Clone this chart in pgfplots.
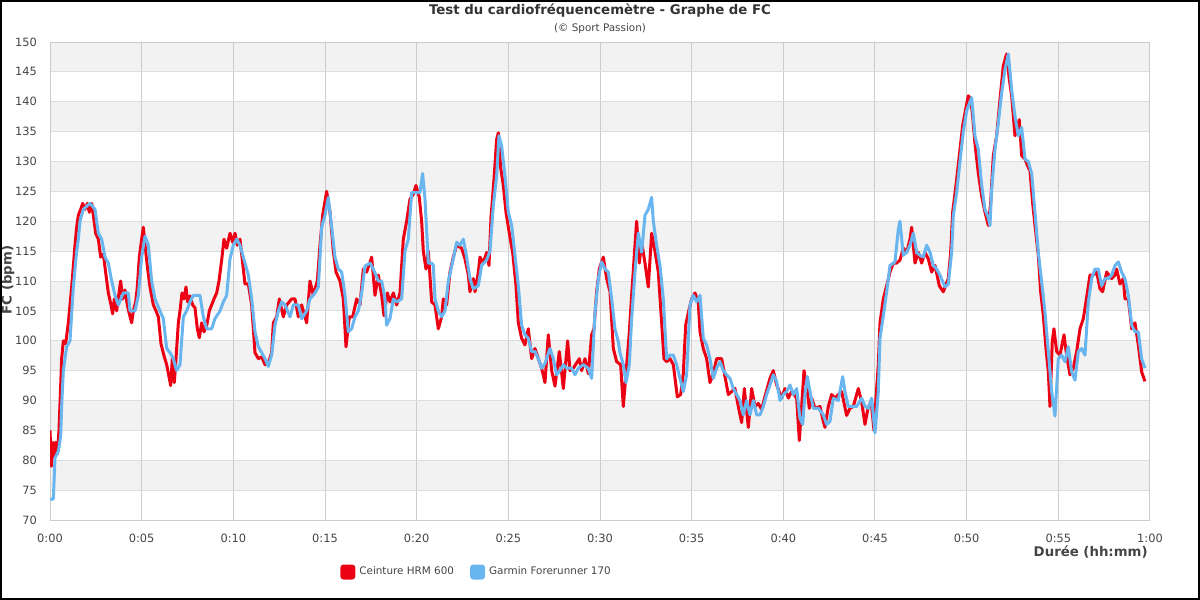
\documentclass[border=0pt]{standalone}
\usepackage{fontspec}
\setmainfont{DejaVu Sans}
\usepackage{pgfplots}
\usepackage{pgfplotstable}
\pgfplotsset{compat=1.18}
\definecolor{hrm}{RGB}{236,0,20}
\definecolor{garmin}{RGB}{104,181,239}
\definecolor{band}{RGB}{242,242,242}
\definecolor{hgrid}{RGB}{221,221,221}
\definecolor{vgrid}{RGB}{204,204,204}
\definecolor{txt}{RGB}{68,68,68}
\definecolor{ttl}{RGB}{51,51,51}
% g = time in 1/55 min (55 = 1 minute), v = heart rate (bpm)
\pgfplotstableread{
g v
0 85
4 79
9 83
13 80.5
17 83
22 81
27 85
31 91
35 97
40 100
47 99.5
55 103
65 109
75 116
80 119
85 121
92 122
98 123
105 122
112 123
118 121.5
125 123
130 121
137 118
145 117
152 114
160 114.5
168 111
175 108
183 106
188 104.5
193 107
200 105
207 108
212 110
218 107
225 108.5
232 106
238 104.5
245 103
250 105
257 106.5
262 109
268 114
275 117
280 119
287 115
293 112
300 109
310 106
318 105
325 104
333 99.5
342 97.5
350 96
357 94
362 92.5
367 97
373 93
378 97
385 103
390 105
396 108
402 107
408 109
413 106.5
420 107.5
428 106
435 105.5
442 102
448 100.5
455 103
462 101.5
470 102.5
478 105
485 106
492 107
500 108
507 110
515 113.5
522 117
530 115.5
540 118
548 116.5
555 118
562 116
570 117
585 109.5
595 109.5
605 106
615 98
625 97
635 97.3
645 96
655 96.3
665 98
670 103
680 104
688 107
700 104
710 106
725 107
735 107
745 104
755 106
770 103
780 110
790 107.6
802 110
810 116
818 121
830 125
840 121.5
850 115
858 111.5
870 110
880 107
888 99
898 104
908 104
920 107
930 106
940 112
950 111.5
965 114
975 107.6
985 111
995 107.6
1002 104.2
1012 108
1020 106.5
1030 108
1040 106
1050 108
1060 117
1070 120
1080 123.7
1090 124.5
1098 126
1108 124
1115 120
1120 115
1128 112
1135 115
1145 106.5
1155 106
1165 102
1175 104
1180 107
1190 106
1200 111.5
1210 114
1220 116
1235 115.5
1245 113.7
1255 111
1260 108.2
1270 110.4
1275 108.2
1285 111.5
1290 114
1300 113
1310 114.8
1317 112.6
1323 120.6
1332 127
1340 133.7
1345 134.8
1352 129
1360 126
1368 121.5
1378 118
1388 114.8
1398 109.2
1405 103
1415 100.4
1425 99.3
1435 102
1445 97
1455 98.7
1465 97
1475 95.4
1485 93
1495 101
1505 95
1515 92.4
1528 98.2
1540 92
1553 100
1560 95
1570 95.4
1588 97
1595 95
1605 97
1615 94.5
1625 101
1632 102
1640 108.2
1648 112
1660 114
1670 110.4
1680 108.2
1690 98.7
1700 96.5
1712 96
1720 89
1728 94.5
1738 101.5
1745 107.6
1755 116
1760 120
1768 113
1775 116.5
1785 113
1795 109
1805 118
1815 115
1825 111.5
1835 103
1842 97
1850 96.5
1860 97
1870 96
1882 90.6
1892 91
1900 94.5
1907 102.6
1915 104.7
1925 107
1935 108
1945 106.5
1950 101.5
1960 98.7
1970 97
1980 93
1990 94.5
2000 97
2015 97
2025 94
2035 91
2045 91.5
2055 92
2065 89
2075 86.3
2083 92
2095 85.5
2105 92
2115 89
2125 89.5
2135 88.5
2145 90.7
2160 93.7
2170 95
2180 92.6
2195 90.4
2205 92
2215 90.4
2225 91.5
2240 90.4
2248 83.3
2255 89
2262 95
2270 92.5
2278 88.7
2285 90.4
2295 88.7
2310 89
2320 86.5
2325 85.5
2335 89
2345 91
2355 90.4
2365 91
2375 91.5
2390 87.5
2400 88.7
2410 89
2425 92
2435 89.8
2445 86
2455 89
2465 89
2472 85
2480 92
2485 96
2490 103
2500 107
2510 109.2
2520 111.5
2530 113
2540 113
2550 113.5
2560 115.5
2570 114.8
2580 117
2585 119
2595 113
2605 114.8
2615 113
2625 114.8
2635 113.7
2645 111.5
2655 112.6
2668 109.2
2680 108.2
2695 110.4
2702 114.8
2708 121.5
2718 126
2728 131
2738 136
2748 139
2755 141
2762 140.5
2768 137.6
2775 133
2785 128
2795 124.2
2805 121.5
2815 119.3
2822 123
2830 131
2840 134.3
2850 140.4
2860 146
2870 148
2878 143.7
2885 141
2895 134.3
2902 136
2908 137
2915 131
2925 130.4
2935 129
2940 128.5
2948 123
2955 119.3
2965 114.3
2972 108.2
2980 104.2
2988 98.7
2995 94.8
3000 89
3007 100
3012 102
3020 98.2
3030 97.6
3042 101
3050 97.6
3060 94.3
3070 95.4
3080 98.2
3090 102
3100 103.7
3108 106.5
3120 111
3130 111
3140 111.5
3150 108.7
3158 108.2
3170 111.5
3185 110.4
3195 111
3200 112
3210 109.5
3220 110.4
3225 107
3235 107
3245 102
3255 103
3265 99.3
3275 94.8
3285 93.2
}\hrmdata
\pgfplotstableread{
g v
0 73.5
10 73.5
15 80.4
25 81.5
32 84
35 89
40 95
50 99
60 100
70 109
80 115
85 117
90 120
100 122
120 123
135 122
140 120
145 118
155 117
165 114
175 113
185 110
195 107.6
205 106
220 108
235 108
240 105
255 105
265 107.6
275 114
285 117.5
295 116
305 110
315 107
330 105
340 103.7
350 98.7
360 98
370 97
380 95
390 96
400 104
410 105
420 106.5
430 107.6
450 107.6
460 104
470 102
485 102
495 103.7
510 105
520 106.5
530 107.6
540 113.7
550 116
560 117
570 116
580 114
595 111
605 107
615 101.5
625 99
635 98
645 97
655 95.7
665 97.6
675 102.6
685 105
695 106.5
705 106
720 104
730 106
745 106
755 103.7
770 105
780 107
795 108
805 109
815 119
825 121
835 124
845 119
855 114
865 112
875 111.5
885 107.6
895 101.5
905 102
915 104
925 105
935 108
945 112.5
960 113
970 112
985 110
995 110
1005 107
1010 102.6
1020 103.7
1030 107
1040 106.5
1055 107
1065 115
1075 117
1085 124.8
1100 124.8
1110 124.8
1118 128
1125 123.7
1135 113
1145 113
1150 112.6
1155 107
1165 105
1175 104
1185 105
1195 110
1210 113.7
1220 116.5
1230 116
1240 117
1250 114
1260 110.4
1270 108.7
1285 109.2
1295 112.6
1310 113.5
1320 115
1330 122.6
1340 127.6
1347 134.3
1355 132.6
1365 127.6
1375 121.5
1385 119.3
1395 114.3
1405 109.2
1415 102.6
1425 101
1435 100.4
1445 98.2
1455 98.2
1465 97
1475 95.4
1485 96.2
1500 98.7
1510 97
1520 94.3
1530 95
1540 96
1550 95.4
1565 95.4
1575 94.3
1585 95.4
1600 96
1615 95.4
1625 93.7
1635 104.7
1645 110.4
1655 113.2
1665 112
1675 111.5
1685 107
1695 102
1705 99.8
1710 98
1720 96
1728 93
1738 96
1745 103.7
1755 111.5
1765 118
1775 114.8
1785 121
1795 122
1805 124
1810 120
1820 116
1830 112.6
1840 107
1850 97
1860 97.6
1870 97.6
1880 96
1890 93.7
1900 91.5
1910 94.3
1920 106
1930 107.6
1940 106.5
1950 107.6
1960 100.4
1970 99.3
1980 97
1990 93.7
2000 95.4
2010 96.5
2020 95
2030 94.3
2040 93.7
2050 92
2060 91
2070 90
2080 87.6
2090 90
2100 87.6
2110 90
2120 87.6
2130 87.6
2140 89
2150 91
2160 92.6
2170 94.3
2180 93.2
2190 90
2200 91
2210 91.5
2220 92.6
2230 91
2240 92
2250 87
2258 86
2265 91
2272 94
2280 91.5
2290 88.7
2305 88.7
2320 87.6
2330 86
2340 86.5
2350 90.4
2365 90
2378 94
2385 91.5
2395 89
2405 89
2420 89
2435 90.4
2445 89
2455 88.7
2465 90.4
2475 84.6
2485 91.5
2490 100.4
2500 104.2
2510 108.2
2520 112.6
2535 113.2
2545 118.7
2550 120
2560 114.3
2570 114.8
2580 116
2590 118
2600 114.8
2610 114.3
2620 114
2630 116
2640 114.8
2650 112.6
2660 112
2670 111
2685 109
2695 109.5
2705 114.8
2710 121
2720 124.8
2730 130
2740 135
2750 138.5
2765 140.7
2775 134.3
2785 132
2795 126
2805 122
2815 120.6
2820 119.3
2825 125.3
2835 132
2845 136.5
2855 141.5
2865 145.4
2875 148
2885 142
2895 137.6
2905 134.3
2915 135.7
2925 130.4
2935 130
2945 128
2955 121.5
2965 114.8
2975 109.8
2985 104.8
2995 98.2
3005 91.5
3015 87.4
3025 97
3035 97.6
3045 96.5
3055 99
3065 94.8
3075 93.4
3085 98.2
3095 98.7
3105 97.6
3115 106.5
3125 110.4
3135 112
3145 112
3155 109.2
3165 110.4
3175 110.4
3185 111
3195 112.6
3205 113.2
3215 111.5
3225 110.4
3235 107.6
3245 102.6
3255 101.5
3265 101.5
3275 97
3285 95.4
}\garmindata
\begin{document}
\begin{tikzpicture}
\begin{axis}[
  set layers,
  scale only axis, width=550pt, height=239pt,
  xmin=0, xmax=60, ymin=70, ymax=150,
  xtick={0,5,...,60},
  xticklabels={0:00,0:05,0:10,0:15,0:20,0:25,0:30,0:35,0:40,0:45,0:50,0:55,1:00},
  ytick={70,75,...,150},
  major tick length=0pt,
  grid=major,
  x grid style={vgrid, line width=0.5pt},
  y grid style={hgrid, line width=0.5pt},
  axis line style={vgrid, line width=0.5pt},
  tick label style={font=\fontsize{5.7}{6}\selectfont, text=txt},
  /pgf/number format/assume math mode=true,
  yticklabel style={xshift=-3pt},
  xticklabel style={yshift=-3.3pt},
  legend columns=2,
  legend cell align=left,
  legend style={at={(0.2636,-0.1088)}, anchor=west, draw=none, fill=none,
    font=\fontsize{5.2}{6}\selectfont, text=txt, inner sep=0pt,
    /tikz/every even column/.append style={column sep=6pt}},
  legend image code/.code={\fill[rounded corners=1pt] (0pt,-3pt) rectangle (6pt,3pt);},
  line join=round,
]
\begin{pgfonlayer}{axis background}
\fill[band] (axis cs:0,75) rectangle (axis cs:60,80);
\fill[band] (axis cs:0,85) rectangle (axis cs:60,90);
\fill[band] (axis cs:0,95) rectangle (axis cs:60,100);
\fill[band] (axis cs:0,105) rectangle (axis cs:60,110);
\fill[band] (axis cs:0,115) rectangle (axis cs:60,120);
\fill[band] (axis cs:0,125) rectangle (axis cs:60,130);
\fill[band] (axis cs:0,135) rectangle (axis cs:60,140);
\fill[band] (axis cs:0,145) rectangle (axis cs:60,150);
\end{pgfonlayer}
\addplot[color=hrm, line width=1.5pt, no marks] table[x expr=\thisrow{g}/55, y=v] {\hrmdata};
\addlegendentry{Ceinture HRM 600}
\addplot[color=garmin, line width=1.5pt, no marks] table[x expr=\thisrow{g}/55, y=v] {\garmindata};
\addlegendentry{Garmin Forerunner 170}
\end{axis}
\node[inner sep=0pt, font=\bfseries\fontsize{6.65}{8}\selectfont, text=ttl] at (275pt,254.75pt) {Test du cardiofréquencemètre - Graphe de FC};
\node[inner sep=0pt, font=\fontsize{5.2}{6}\selectfont, text=txt] at (275pt,245.5pt) {(© Sport Passion)};
\node[inner sep=0pt, anchor=east, font=\bfseries\fontsize{6.65}{8}\selectfont, text=txt] at (549pt,-16pt) {Durée (hh:mm)};
\node[inner sep=0pt, rotate=90, font=\bfseries\fontsize{6.65}{8}\selectfont, text=txt] at (-21pt,120pt) {FC (bpm)};
\draw[black, line width=1pt] (-24.5pt,-39.5pt) rectangle (574.5pt,259.5pt);
\end{tikzpicture}
\end{document}
